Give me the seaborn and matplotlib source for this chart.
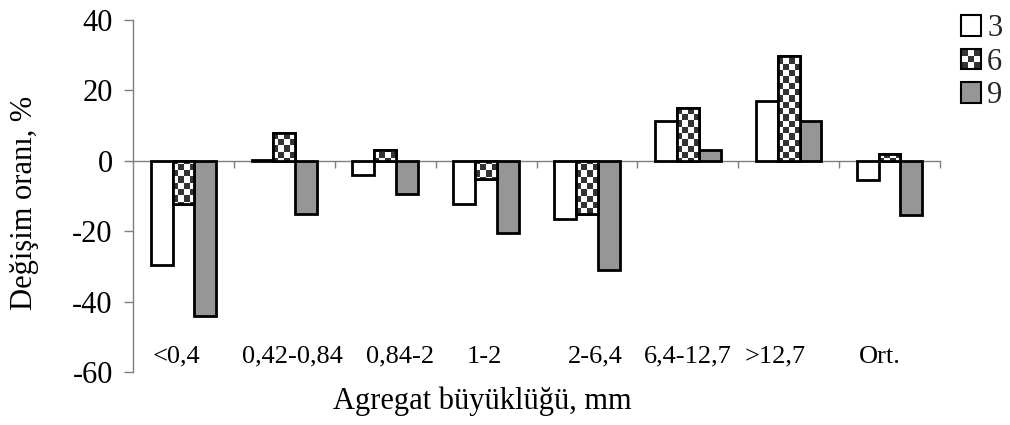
import numpy as np
import pandas as pd
import matplotlib
matplotlib.use("Agg")
import matplotlib.pyplot as plt
from matplotlib.patches import Rectangle
from matplotlib.legend_handler import HandlerBase
from matplotlib.colors import ListedColormap
from matplotlib.transforms import ScaledTranslation
import seaborn as sns

# Aggregate size classes and change ratios (%) for the three periods
categories = ["<0,4", "0,42-0,84", "0,84-2", "1-2", "2-6,4", "6,4-12,7", ">12,7", "Ort."]
series = ["3", "6", "9"]
values_3 = [-29.5, 0.3, -4.1, -12.4, -16.6, 11.2, 17.0, -5.5]
values_6 = [-12.4, 8.0, 3.1, -5.2, -15.2, 15.1, 29.7, 2.0]
values_9 = [-44.0, -15.1, -9.3, -20.5, -30.9, 3.0, 11.3, -15.5]
yticks = [-60, -40, -20, 0, 20, 40]

df = pd.DataFrame({
    "cat": categories * 3,
    "val": values_3 + values_6 + values_9,
    "series": [s for s in series for _ in categories],
})

sns.set_theme(style="white")
plt.rcParams["font.family"] = ["Liberation Serif", "DejaVu Serif"]

fig = plt.figure(figsize=(10.1, 4.25), dpi=100)
ax = fig.add_axes([133 / 1010, 1 - 372 / 425, 807 / 1010, 352 / 425])

GRAY_FILL = "#969696"
DARK = "#333333"
AXIS_GRAY = "#7f7f7f"

sns.barplot(data=df, x="cat", y="val", hue="series", hue_order=series,
            order=categories, palette=["white", "white", GRAY_FILL],
            saturation=1, edgecolor="black", linewidth=2.0, width=0.65,
            legend=False, ax=ax, zorder=3)

ax.set_xlim(-0.5, len(categories) - 0.5)
ax.set_ylim(-60, 40)

# checkerboard fill for the "6" bars
ny, nx = 56, 128
checker = (np.add.outer(np.arange(ny), np.arange(nx)) % 2).astype(float)
cmap = ListedColormap(["white", DARK])
xl, yl = ax.get_xlim(), ax.get_ylim()
for bar in ax.containers[1]:
    img = ax.imshow(checker, extent=(xl[0], xl[1], yl[0], yl[1]), aspect="auto",
                    interpolation="nearest", cmap=cmap, origin="lower", zorder=3.5)
    img.set_clip_path(bar)
    ax.add_patch(Rectangle((bar.get_x(), bar.get_y()), bar.get_width(), bar.get_height(),
                           fill=False, edgecolor="black", linewidth=2.0, zorder=4))
ax.set_xlim(xl)
ax.set_ylim(yl)

# axes styling
for side in ["top", "right"]:
    ax.spines[side].set_visible(False)
ax.spines["left"].set_color(AXIS_GRAY)
ax.spines["left"].set_linewidth(1.0)
ax.spines["bottom"].set_position(("data", 0))
ax.spines["bottom"].set_color(AXIS_GRAY)
ax.spines["bottom"].set_linewidth(1.0)
ax.spines["bottom"].set_zorder(2)

ax.set_yticks(yticks)
ax.set_yticklabels([str(v) for v in yticks])
ax.tick_params(axis="y", which="major", direction="out", length=6.5, width=1.0,
               color=AXIS_GRAY, pad=8, labelsize=22, labelcolor="black", left=True)

centers = np.arange(len(categories))
ax.set_xticks(centers + 0.5)
ax.set_xticklabels([])
ax.set_xticks(centers, minor=True)
ax.set_xticklabels(categories, minor=True)
ax.tick_params(axis="x", which="major", direction="out", length=5, width=1.0,
               color=AXIS_GRAY, bottom=True)
ax.tick_params(axis="x", which="minor", length=0, pad=133, labelsize=19,
               labelcolor="black", bottom=True)

# category labels sit slightly off their group centres (pixel nudges)
label_nudge_px = [-7, 8, 15, -2, 8, 0, -14, -10]
for lab, dx in zip(ax.get_xticklabels(minor=True), label_nudge_px):
    lab.set_transform(lab.get_transform() + ScaledTranslation(dx / 100, 0, fig.dpi_scale_trans))

ax.set_xlabel("Agregat büyüklüğü, mm", fontsize=22, color="black")
ax.xaxis.set_label_coords((482 - 133) / 807, -0.04)
ax.set_ylabel("Değişim oranı, %", fontsize=22, color="black")
ax.yaxis.set_label_coords(-0.116, 0.48)
ax.grid(False)


class CheckerHandler(HandlerBase):
    def create_artists(self, legend, orig_handle, xdescent, ydescent,
                       width, height, fontsize, trans):
        x0, y0 = -xdescent, -ydescent
        n = 3
        arts = [Rectangle((x0, y0), width, height, facecolor="white",
                          edgecolor="none", transform=trans)]
        for i in range(n):
            for j in range(n):
                if (i + j) % 2 == 0:
                    arts.append(Rectangle((x0 + i * width / n, y0 + j * height / n),
                                          width / n, height / n, facecolor=DARK,
                                          edgecolor="none", transform=trans))
        arts.append(Rectangle((x0, y0), width, height, fill=False,
                              edgecolor="black", linewidth=1.5, transform=trans))
        return arts


h3 = Rectangle((0, 0), 1, 1, facecolor="white", edgecolor="black", linewidth=1.5)
h6 = Rectangle((0, 0), 1, 1, facecolor="white", edgecolor="black", linewidth=1.5)
h9 = Rectangle((0, 0), 1, 1, facecolor=GRAY_FILL, edgecolor="black", linewidth=1.5)
fig.legend([h3, h6, h9], series, handler_map={h6: CheckerHandler()},
           loc="upper left", bbox_to_anchor=(955 / 1010, 1 - 8 / 425),
           frameon=False, fontsize=22, handlelength=0.65, handleheight=0.65,
           handletextpad=0.2, labelspacing=0.15, borderpad=0.2, borderaxespad=0)

fig.savefig("out.png", dpi=100)
